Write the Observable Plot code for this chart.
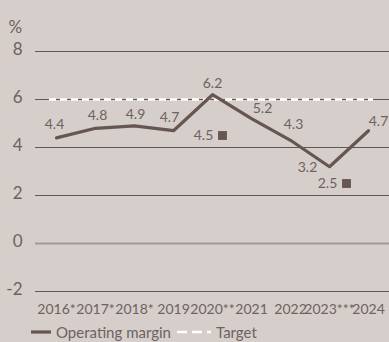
<!DOCTYPE html>
<html>
<head>
<meta charset="utf-8">
<script src="https://cdn.jsdelivr.net/npm/d3@7"></script>
<script src="https://cdn.jsdelivr.net/npm/@observablehq/plot@0.6"></script>
<style>
  html, body { margin: 0; padding: 0; background: #d6cecb; }
  #chart { width: 389px; height: 342px; overflow: hidden; font-family: Lato, sans-serif; }
  .legend { display: flex; align-items: center; height: 20px; margin-left: 31px; font-size: 15px; color: #6e625f; }
  .legend svg { margin-right: 5px; }
  .legend .item { display: flex; align-items: center; margin-right: 6px; }
</style>
</head>
<body>
<div id="chart"></div>
<script>
// Data
const years = ["2016*", "2017*", "2018*", "2019", "2020**", "2021", "2022", "2023***", "2024"];
const operatingMargin = [4.4, 4.8, 4.9, 4.7, 6.2, 5.2, 4.3, 3.2, 4.7];
const adjustedYears = ["2020**", "2023***"];
const adjustedValues = [4.5, 2.5];
const targetValue = 6;
const yTicks = [-2, 0, 2, 4, 6, 8];

// Styling (label offsets per point, not data)
const labelOffsets = [[-2, -13], [2, -13], [1, -11], [-4, -13], [0, -11], [11, -10], [3, -16], [-22, 1], [10, -9]];
const squareOffsets = [10, 17];

const lineColor = "#665652";
const textColor = "#6e625f";

const rows = years.map((y, i) => ({year: y, value: operatingMargin[i], i}));
const adj = adjustedYears.map((y, i) => ({year: y, value: adjustedValues[i], i}));

const labelMarks = rows.map(r => Plot.text([r], {
  x: "year", y: "value", text: d => d.value.toFixed(1),
  dx: labelOffsets[r.i][0], dy: labelOffsets[r.i][1],
  fill: textColor, fontSize: 14
}));
const squareMarks = adj.map(r => Plot.dot([r], {
  x: "year", y: "value", symbol: "square", r: 5, fill: lineColor, stroke: "none", dx: squareOffsets[r.i]
}));
const adjLabelMarks = adj.map(r => Plot.text([r], {
  x: "year", y: "value", text: d => d.value.toFixed(1),
  dx: squareOffsets[r.i] - 19, fill: textColor, fontSize: 14
}));

const chart = Plot.plot({
  width: 389,
  height: 322,
  marginLeft: 35,
  marginRight: 0,
  marginTop: 51,
  marginBottom: 31,
  style: {background: "#d6cecb", fontFamily: "Lato, sans-serif", color: textColor, overflow: "visible"},
  x: {type: "point", domain: years, padding: 0.5, label: null},
  y: {domain: [-2, 8], label: null},
  marks: [
    Plot.ruleY(yTicks.filter(t => t !== 0), {stroke: "#625653", strokeWidth: 1.2}),
    Plot.ruleY([0], {stroke: "#a39896", strokeWidth: 2}),
    Plot.ruleY([targetValue], {stroke: "#ffffff", strokeWidth: 2.5, strokeDasharray: "7,4", insetLeft: 14, insetRight: 16}),
    Plot.lineY(rows, {x: "year", y: "value", stroke: lineColor, strokeWidth: 3.2}),
    ...squareMarks,
    ...adjLabelMarks,
    ...labelMarks,
    Plot.axisY(yTicks, {tickSize: 0, tickPadding: 13, fontSize: 17, fill: textColor, dy: -2, label: null, tickFormat: d => String(d)}),
    Plot.axisX({tickSize: 0, tickPadding: 13, fontSize: 14, fill: textColor, label: null}),
    Plot.text(["%"], {frameAnchor: "top-left", dx: -27, dy: -31, fontSize: 17, fill: textColor, textAnchor: "start"})
  ]
});

const container = document.getElementById("chart");
container.appendChild(chart);

const legend = document.createElement("div");
legend.className = "legend";
legend.innerHTML = `
  <div class="item"><svg width="20" height="6"><line x1="0" y1="3" x2="20" y2="3" stroke="${lineColor}" stroke-width="3.2"/></svg><span>Operating margin</span></div>
  <div class="item"><svg width="34" height="6"><line x1="0" y1="3" x2="34" y2="3" stroke="#ffffff" stroke-width="2.5" stroke-dasharray="10,5"/></svg><span>Target</span></div>`;
container.appendChild(legend);
</script>
</body>
</html>
